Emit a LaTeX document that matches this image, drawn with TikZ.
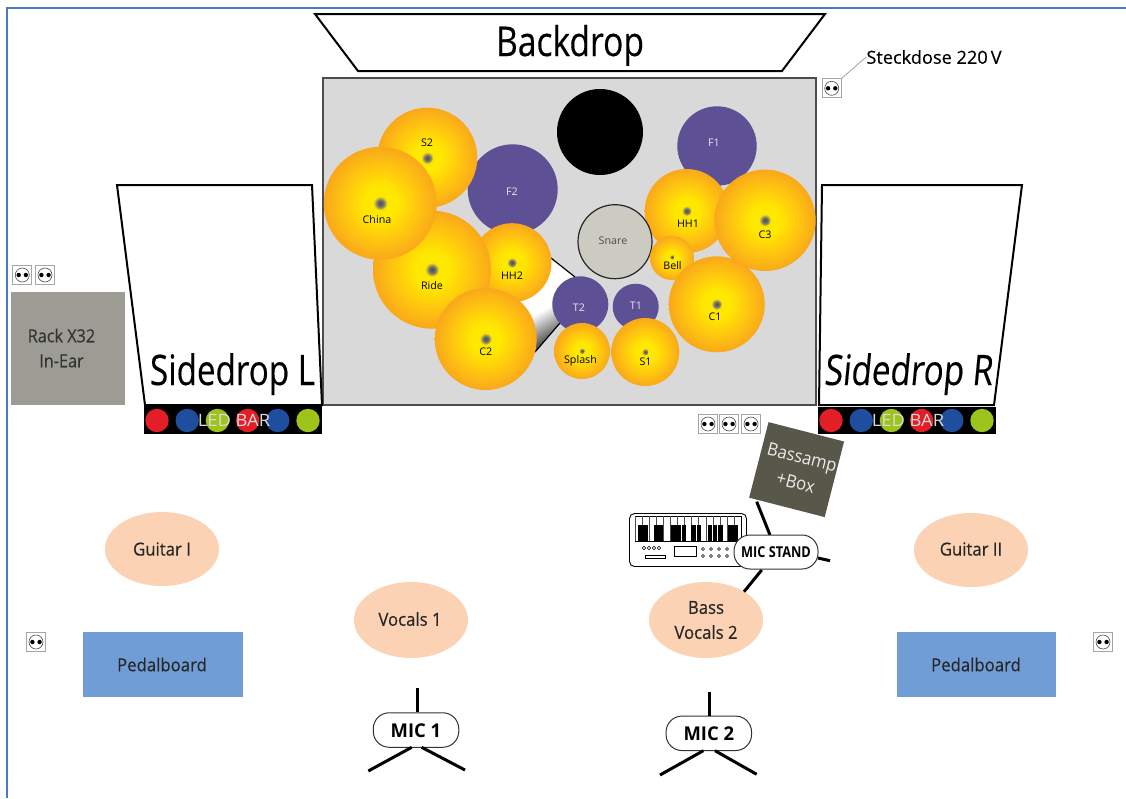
\documentclass[tikz,border=0pt]{standalone}
\usepackage{fontspec}
\setmainfont{Open Sans}
\newfontfamily\heavy[FakeBold=0.35]{Open Sans}
\usetikzlibrary{calc,shapes.geometric}
\definecolor{frameblue}{HTML}{4A78CC}
\definecolor{stagegrey}{HTML}{D9D9D9}
\definecolor{tomblue}{HTML}{5D5095}
\definecolor{snarefill}{HTML}{CBCBC1}
\definecolor{peach}{HTML}{FBD2B4}
\definecolor{pedal}{HTML}{719DD6}
\definecolor{rackgrey}{HTML}{9C9C95}
\definecolor{ampgrey}{HTML}{57574A}
\definecolor{ledred}{HTML}{E31E26}
\definecolor{ledblue}{HTML}{1F4E9F}
\definecolor{ledgreen}{HTML}{9DC41A}
\definecolor{cymin}{HTML}{FFE800}
\definecolor{cymmid}{HTML}{FFC70F}
\definecolor{cymout}{HTML}{F9A81A}
\pgfdeclareradialshading{cymbalshade}{\pgfpointorigin}{color(0bp)=(cymin); color(7bp)=(cymin); color(16bp)=(cymmid); color(25bp)=(cymout); color(50bp)=(cymout)}
\pgfdeclareradialshading{bellshade}{\pgfpointorigin}{color(0bp)=(black!70); color(12bp)=(black!55); color(25bp)=(cymin); color(50bp)=(cymin)}
\pgfdeclareverticalshading{wedgeshade}{100bp}{color(0bp)=(black!65); color(30bp)=(black!65); color(46bp)=(white); color(100bp)=(white)}
\tikzset{
  cymbal/.style={circle,minimum size=#1*2pt,inner sep=0pt,shading=cymbalshade},
  drum/.style={circle,minimum size=#1*2pt,inner sep=0pt,fill=tomblue},
  lab/.style={font=\fontsize{10.5}{10.5}\selectfont,inner sep=0pt,xscale=1.02},
  wlab/.style={lab,text=white!85!tomblue},
  pill/.style={draw=black!80,line width=1pt,fill=white,rounded corners=16pt,inner sep=0pt},
  pilltxt/.style={font=\bfseries\fontsize{19}{19}\selectfont},
  stand/.style={line width=3pt,black},
  person/.style={ellipse,fill=peach,inner sep=0pt},
  sockbox/.style={draw=black!35,fill=white,line width=0.7pt,minimum size=19pt,inner sep=0pt},
  midtxt/.style={font=\heavy\fontsize{18}{18}\selectfont,text=black!85,xscale=.93},
  bigtxt/.style={inner sep=0pt,anchor=base},
}
\newcommand{\bell}[3]{\shade[shading=bellshade] (#1,#2) circle (#3);}
\newcommand{\sock}[3]{%
  \node[sockbox] (#1) at (#2,#3) {};
  \draw[black!70,line width=0.6pt] (#2,#3) circle (7);
  \fill (#2-3.6,#3) circle (2.2) (#2+3.6,#3) circle (2.2);}
\newcommand{\ledbar}[2]{%
  \foreach \i/\c in {0/ledred,1/ledblue,2/ledgreen,3/ledred,4/ledblue,5/ledgreen}
    \fill[\c] ({#1+\i*30.2},#2) circle (11.7);
  \node[font=\fontsize{17}{17}\selectfont,text=white!85!black,inner sep=0pt,xscale=1.08] at ({#1+77},#2) {LED BAR};}
\begin{document}
\begin{tikzpicture}[x=1pt,y=-1pt]
\useasboundingbox (0,0) rectangle (1126,798);
\fill[white] (0,0) rectangle (1126,798);
\draw[frameblue,line width=2pt] (7,798) -- (7,8) -- (1126,8);

% backdrop
\draw[line width=2pt,fill=white] (315,14) -- (825,14) -- (782,71) -- (358,71) -- cycle;
\node[bigtxt,xscale=.82] (backdrop) at (570,56) {\heavy\fontsize{41}{41}\selectfont Backdrop};

% stage
\draw[fill=stagegrey,draw=black!70,line width=1.5pt] (323,78) rectangle (816,405);

% pedal wedge
\shade[shading=wedgeshade,shading angle=30] (500,300) -- (551,258) -- (575,277) -- (560,323) -- (535,352) -- cycle;
\draw[line width=1.2pt] (551,258) -- (575,277) (560,323) -- (535,352);

% drums and cymbals
\node[circle,minimum size=86pt,inner sep=0pt,fill=black] (kick) at (600,132) {};
\node[drum=39.7] (F1) at (717,146) {};
\node[drum=45] (F2) at (512.7,189.3) {};
\node[cymbal=50] (S2) at (427.3,157.7) {};
\bell{427.3}{158}{6}
\node[cymbal=39.5] (HH2) at (512,262.7) {};
\bell{512}{262.7}{5}
\node[cymbal=59] (Ride) at (432,269.7) {};
\bell{432}{269.7}{7}
\node[cymbal=56.5] (China) at (380.3,203.3) {};
\bell{380.3}{203.3}{7}
\node[cymbal=51] (C2) at (485.7,339) {};
\bell{485.7}{339}{6}
\node[drum=28] (T2) at (580.3,304.3) {};
\node[drum=23] (T1) at (635.7,306.7) {};
\node[cymbal=28] (Splash) at (582,351) {};
\bell{582}{351}{3}
\node[cymbal=34] (S1) at (645.3,352) {};
\bell{645.3}{352}{3.5}
\node[cymbal=42] (HH1) at (686.7,211) {};
\bell{686.7}{211}{5}
\node[cymbal=50.7] (C3) at (765,220.3) {};
\bell{765}{220.3}{6}
\node[circle,minimum size=74pt,inner sep=0pt,fill=snarefill,draw=black!85,line width=1.2pt] (Snare) at (615,241.7) {};
\node[cymbal=22] (Bell) at (672,258) {};
\bell{672}{257}{2.5}
\node[cymbal=48] (C1) at (716.7,304.3) {};
\bell{716.7}{304.3}{5.5}

\node[lab] at (427,143) {S2};
\node[lab] at (377,220) {China};
\node[lab] at (432,285.5) {Ride};
\node[lab] at (512,275.5) {HH2};
\node[lab] at (485.7,351.5) {C2};
\node[lab] at (580.5,361) {Splash};
\node[lab] at (645.5,362) {S1};
\node[lab] at (672.5,265.5) {Bell};
\node[lab] at (715,317) {C1};
\node[lab] at (688,224) {HH1};
\node[lab] at (765,235) {C3};
\node[lab,text=black!70] at (613,241) {Snare};
\node[wlab] at (714,143) {F1};
\node[wlab] at (512,192) {F2};
\node[wlab] at (579,308) {T2};
\node[wlab] at (636,306) {T1};

% side drops
\draw[line width=2pt,fill=white] (117,185) -- (312,185) -- (322,405) -- (145,405) -- cycle;
\draw[line width=2pt,fill=white] (822,185) -- (1022,185) -- (994,405) -- (819,405) -- cycle;
\node[bigtxt,xscale=.79] (sideL) at (232.5,385) {\heavy\fontsize{42}{42}\selectfont Sidedrop L};
\node[bigtxt,xscale=.79,xslant=.12] (sideR) at (908,385) {\heavy\fontsize{42}{42}\selectfont Sidedrop R};
\fill (144,406) rectangle (322,434);
\fill (818,407) rectangle (996,434);
\ledbar{157}{420.5}
\ledbar{831}{420.5}

% rack
\node[fill=rackgrey,minimum width=114pt,minimum height=113pt,inner sep=0pt] (rack) at (68,348.5) {};
\node[midtxt,xscale=.97,align=center,inner sep=0pt,text=black!80,font=\heavy\fontsize{18}{25}\selectfont] at (61.5,348) {Rack X32\\In-Ear};

% sockets
\sock{s1}{22.3}{275}\sock{s2}{45}{275}
\sock{s3}{831.7}{88.3}
\sock{s4}{708}{424}\sock{s5}{729}{424}\sock{s6}{751}{424}
\sock{s7}{36}{642}\sock{s8}{1103}{642}
\node[font=\heavy\fontsize{18}{18}\selectfont,inner sep=0pt,xscale=1.01] (steck) at (934,57) {Steckdose 220\,V};
\draw[black!40,line width=.7pt] (s3.north east) -- (steck.west);

% keyboard
\draw[line width=.9pt,rounded corners=5pt,fill=white] (629.5,513.5) rectangle (746.5,566.5);
\draw[line width=.7pt] (635,516) rectangle (741,541);
\foreach \k in {0,...,14} \draw[black!70,line width=.4pt] ({635+\k*7.07},516) -- ({635+\k*7.07},541);
\foreach \k in {47,62,93,107,145,160,177,206,222,255,270,287,317,332} \fill ({625+\k/3-2.2},525) rectangle ++(4.4,16);
\foreach \x in {644,649,654,659} \draw[line width=.5pt] (\x,548) circle (1.7);
\draw[line width=.5pt] (645,555) rectangle (665,558.5);
\draw[line width=.6pt] (674,546) rectangle (696,556);
\foreach \x in {703,711,719,727} {\draw[line width=.5pt] (\x,549) circle (1.5); \draw[line width=.5pt] (\x,556) circle (1.5);}

% bass amp
\node[fill=ampgrey,minimum size=78pt,inner sep=0pt,rotate=-14.4] (amp) at (796.6,469.6) {};
\node[rotate=-14.4,xscale=.93,align=center,text=white!88!ampgrey,font=\fontsize{18}{26}\selectfont,inner sep=0pt] (amptxt) at (799,470) {Bassamp\\+Box};

% mic stand
\coordinate (stA) at (756.7,501.7);
\coordinate (stB) at (830,560.7);
\coordinate (stC) at (744,591.7);
\node[person,minimum width=114pt,minimum height=76pt] (bass) at (706,620) {};
\node[midtxt,align=center,font=\heavy\fontsize{18}{25}\selectfont,inner sep=0pt] at (706,620) {Bass\\Vocals 2};
\draw[stand] (stC) -- (761.7,570);
\draw[stand] (stA) -- (770,535);
\draw[stand] (818,558) -- (stB);
\node[pill,minimum width=84pt,minimum height=34pt] (micS) at (776,552) {};
\node[font=\bfseries\fontsize{15}{15}\selectfont,xscale=.85,inner sep=0pt] at (776,552) {MIC STAND};

% performers
\node[person,minimum width=114pt,minimum height=74pt] (g1) at (162,549) {};
\node[midtxt] at (162,549) {Guitar I};
\node[person,minimum width=114pt,minimum height=76pt] (voc) at (411,620) {};
\node[midtxt] at (410,619) {Vocals 1};
\node[person,minimum width=114pt,minimum height=74pt] (g2) at (971,550) {};
\node[midtxt] at (971,549) {Guitar II};
\node[fill=pedal,minimum width=160pt,minimum height=65pt,inner sep=0pt] (p1) at (163,664.5) {};
\node[midtxt] at (162,664.5) {Pedalboard};
\node[fill=pedal,minimum width=159pt,minimum height=65pt,inner sep=0pt] (p2) at (976.5,664.5) {};
\node[midtxt] at (976,664.5) {Pedalboard};

% mics
\node[pill,minimum width=85.5pt,minimum height=34.5pt] (m1) at (416,730) {};
\node[pilltxt,xscale=.97,inner sep=0pt] at (416,730.5) {MIC 1};
\coordinate (m1t) at (417,688.3);\coordinate (m1l) at (368.3,771);\coordinate (m1r) at (465,770);
\draw[stand] (m1t) -- (m1t|-m1.north);
\draw[stand] (411.7,747.3) -- (m1l);
\draw[stand] (421.7,747.3) -- (m1r);
\node[pill,minimum width=85.5pt,minimum height=34.5pt] (m2) at (708.8,733.3) {};
\node[pilltxt,xscale=.97,inner sep=0pt] at (708.8,733.8) {MIC 2};
\coordinate (m2t) at (709.3,691.7);\coordinate (m2l) at (660,775);\coordinate (m2r) at (756.7,774.3);
\draw[stand] (m2t) -- (m2t|-m2.north);
\draw[stand] (703.3,750.7) -- (m2l);
\draw[stand] (715,750.7) -- (m2r);
\end{tikzpicture}
\end{document}
